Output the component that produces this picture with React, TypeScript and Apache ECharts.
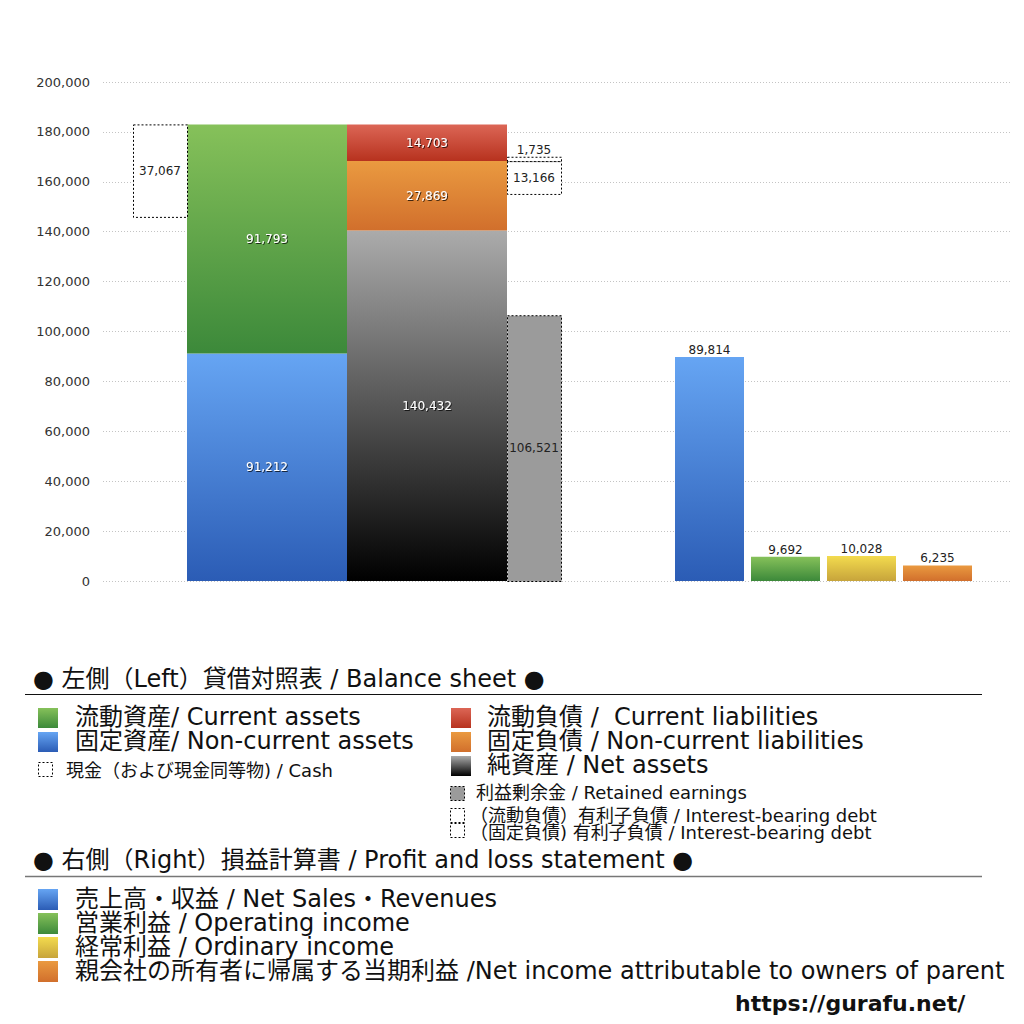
import React, { useEffect, useRef } from 'react';
import * as echarts from 'echarts';

// 貸借対照表（左側）
const assetValues = [91212, 91793]; // 固定資産, 流動資産
const cashValue = 37067;
const liabilityValues = [140432, 27869, 14703]; // 純資産, 固定負債, 流動負債
const retainedEarnings = 106521;
const debtValues = [13166, 1735]; // 固定負債の有利子負債, 流動負債の有利子負債

// 損益計算書（右側）
const plValues = [89814, 9692, 10028, 6235]; // 売上高, 営業利益, 経常利益, 当期利益

const yMax = 200000;
const yInterval = 20000;

const FONT = '"DejaVu Sans", "Noto Sans CJK JP", sans-serif';

// layout (pixel positions on the 1024 page)
const GRID = { left: 103, right: 1010, top: 82, bottom: 581 };
const COL = {
  cash: [133, 187],
  assets: [187, 347],
  liab: [347, 507],
  debt: [507, 561]
};
const PL_COLS = [
  [675, 744],
  [751, 820],
  [827, 896],
  [903, 972]
];

const COLORS: Record<string, [string, string]> = {
  green: ['#86c15a', '#3c893a'],
  blue: ['#66a5f3', '#2b5cb5'],
  red: ['#dc6656', '#b7321e'],
  orange: ['#ea9a40', '#d16f2c'],
  black: ['#ababab', '#000000'],
  yellow: ['#f3db4e', '#c7a43b']
};

const grad = (name: string) =>
  new echarts.graphic.LinearGradient(0, 0, 0, 1, [
    { offset: 0, color: COLORS[name][0] },
    { offset: 1, color: COLORS[name][1] }
  ]);

type Seg = {
  x0: number;
  x1: number;
  y0: number;
  y1: number;
  value: number;
  fill: any;
  dashed?: boolean;
  label: 'white' | 'dark' | 'above';
};

const buildSegments = (): Seg[] => {
  const segs: Seg[] = [];
  let acc = 0;
  const assetColors = ['blue', 'green'];
  assetValues.forEach((v, i) => {
    segs.push({ x0: COL.assets[0], x1: COL.assets[1], y0: acc, y1: acc + v, value: v, fill: grad(assetColors[i]), label: 'white' });
    acc += v;
  });
  const totalAssets = acc;
  segs.push({ x0: COL.cash[0], x1: COL.cash[1], y0: totalAssets - cashValue, y1: totalAssets, value: cashValue, fill: '#fff', dashed: true, label: 'dark' });

  acc = 0;
  const liabColors = ['black', 'orange', 'red'];
  liabilityValues.forEach((v, i) => {
    segs.push({ x0: COL.liab[0], x1: COL.liab[1], y0: acc, y1: acc + v, value: v, fill: grad(liabColors[i]), label: 'white' });
    acc += v;
  });
  const fixedTop = liabilityValues[0] + liabilityValues[1];

  segs.push({ x0: COL.debt[0], x1: COL.debt[1], y0: 0, y1: retainedEarnings, value: retainedEarnings, fill: '#9b9b9b', dashed: true, label: 'dark' });
  segs.push({ x0: COL.debt[0], x1: COL.debt[1], y0: fixedTop - debtValues[0], y1: fixedTop, value: debtValues[0], fill: '#fff', dashed: true, label: 'dark' });
  segs.push({ x0: COL.debt[0], x1: COL.debt[1], y0: fixedTop, y1: fixedTop + debtValues[1], value: debtValues[1], fill: '#fff', dashed: true, label: 'above' });

  const plColors = ['blue', 'green', 'yellow', 'orange'];
  plValues.forEach((v, i) => {
    segs.push({ x0: PL_COLS[i][0], x1: PL_COLS[i][1], y0: 0, y1: v, value: v, fill: grad(plColors[i]), label: 'above' });
  });
  return segs;
};

const icon = (x: number, y: number, w: number, h: number, fill: any, dashed = false) => ({
  type: 'rect',
  silent: true,
  shape: { x, y, width: w, height: h },
  style: dashed
    ? { fill, stroke: '#000', lineWidth: 1, lineDash: [2, 2] }
    : { fill }
});

const text = (x: number, y: number, t: string, size: number, lineHeight: number, weight = 'normal') => ({
  type: 'text',
  silent: true,
  x,
  y,
  style: {
    text: t,
    fontSize: size,
    lineHeight,
    fontFamily: FONT,
    fontWeight: weight,
    fill: '#111',
    verticalAlign: 'middle',
    align: 'left'
  }
});

const legendElements = () => [
  text(33, 679, '● 左側（Left）貸借対照表 / Balance sheet ●', 24, 22),
  { type: 'line', silent: true, shape: { x1: 25, y1: 694.5, x2: 982, y2: 694.5 }, style: { stroke: '#111', lineWidth: 1 } },
  icon(38, 708, 20, 20, grad('green')),
  text(75, 717, '流動資産/ Current assets', 24, 22),
  icon(38, 732, 20, 20, grad('blue')),
  text(75, 741, '固定資産/ Non-current assets', 24, 22),
  icon(38.5, 762.5, 14, 14, '#fff', true),
  text(66, 770, '現金（および現金同等物) / Cash', 18, 18),

  icon(451, 708, 20, 20, grad('red')),
  text(487, 717, '流動負債 /  Current liabilities', 24, 22),
  icon(451, 732, 20, 20, grad('orange')),
  text(487, 741, '固定負債 / Non-current liabilities', 24, 22),
  icon(451, 756, 20, 20, grad('black')),
  text(487, 765, '純資産 / Net assets', 24, 22),
  icon(450.5, 786.5, 14, 14, '#9b9b9b', true),
  text(476, 792, '利益剰余金 / Retained earnings', 18, 18),
  icon(450.5, 808.5, 14, 14, '#fff', true),
  text(470, 815, '（流動負債）有利子負債 / Interest-bearing debt', 18, 16),
  icon(450.5, 823.5, 14, 14, '#fff', true),
  text(470, 832, '（固定負債) 有利子負債 / Interest-bearing debt', 18, 16),

  text(33, 860, '● 右側（Right）損益計算書 / Profit and loss statement ●', 24, 22),
  { type: 'line', silent: true, shape: { x1: 25, y1: 876.5, x2: 982, y2: 876.5 }, style: { stroke: '#777', lineWidth: 1.5 } },
  icon(38, 889, 20, 21, grad('blue')),
  text(75, 899, '売上高・収益 / Net Sales・Revenues', 24, 22),
  icon(38, 913, 20, 21, grad('green')),
  text(75, 923, '営業利益 / Operating income', 24, 22),
  icon(38, 937, 20, 21, grad('yellow')),
  text(75, 947, '経常利益 / Ordinary income', 24, 22),
  icon(38, 961, 20, 21, grad('orange')),
  text(75, 971, '親会社の所有者に帰属する当期利益 /Net income attributable to owners of parent', 24, 22),
  text(735, 1003, 'https://gurafu.net/', 22, 22, 'bold')
];

const App: React.FC = () => {
  const chartRef = useRef<HTMLDivElement>(null);

  useEffect(() => {
    if (!chartRef.current) return;
    const chart = echarts.init(chartRef.current, undefined, { renderer: 'svg' });
    const segs = buildSegments();

    const renderItem = (params: any, api: any) => {
      const s = segs[params.dataIndex];
      const tl = api.coord([api.value(0), api.value(3)]);
      const br = api.coord([api.value(1), api.value(2)]);
      const x = tl[0];
      const y = tl[1];
      const w = br[0] - tl[0];
      const h = br[1] - tl[1];
      const rectStyle = s.dashed
        ? { fill: s.fill, stroke: '#000', lineWidth: 1, lineDash: [2, 2] }
        : { fill: s.fill };
      const children: any[] = [
        { type: 'rect', shape: { x: s.dashed ? x + 0.5 : x, y: s.dashed ? y + 0.5 : y, width: w, height: h }, style: rectStyle }
      ];
      const str = s.value.toLocaleString('en-US');
      if (s.label === 'white') {
        children.push({
          type: 'text',
          x: x + w / 2,
          y: y + h / 2,
          style: {
            text: str, fill: '#fff', fontSize: 12, fontFamily: FONT, align: 'center', verticalAlign: 'middle',
            textShadowColor: 'rgba(0,0,0,0.7)', textShadowBlur: 1, textShadowOffsetX: 1, textShadowOffsetY: 1
          }
        });
      } else if (s.label === 'dark') {
        children.push({
          type: 'text',
          x: x + w / 2,
          y: y + h / 2,
          style: { text: str, fill: '#222', fontSize: 12, fontFamily: FONT, align: 'center', verticalAlign: 'middle' }
        });
      } else {
        children.push({
          type: 'text',
          x: x + w / 2,
          y: y - 7,
          style: { text: str, fill: '#222', fontSize: 12, fontFamily: FONT, align: 'center', verticalAlign: 'middle' }
        });
      }
      return { type: 'group', children };
    };

    const option = {
      animation: false,
      textStyle: { fontFamily: FONT },
      grid: {
        left: GRID.left,
        right: 1024 - GRID.right,
        top: GRID.top,
        bottom: 1024 - GRID.bottom
      },
      xAxis: { type: 'value', min: GRID.left, max: GRID.right, show: false },
      yAxis: {
        type: 'value',
        min: 0,
        max: yMax,
        interval: yInterval,
        axisLine: { show: false },
        axisTick: { show: false },
        axisLabel: {
          color: '#333',
          fontSize: 13,
          margin: 13,
          fontFamily: FONT,
          formatter: (v: number) => v.toLocaleString('en-US')
        },
        splitLine: { lineStyle: { color: '#c4c4c4', width: 1, type: [1, 2] } }
      },
      series: [
        {
          type: 'custom',
          renderItem,
          clip: false,
          encode: { x: [0, 1], y: [2, 3] },
          data: segs.map((s) => [s.x0, s.x1, s.y0, s.y1, s.value])
        }
      ],
      graphic: legendElements()
    };

    chart.setOption(option);
    return () => {
      chart.dispose();
    };
  }, []);

  return (
    <div
      ref={chartRef}
      style={{ position: 'fixed', left: 0, top: 0, width: 1024, height: 1024, background: '#fff' }}
    />
  );
};

export default App;
